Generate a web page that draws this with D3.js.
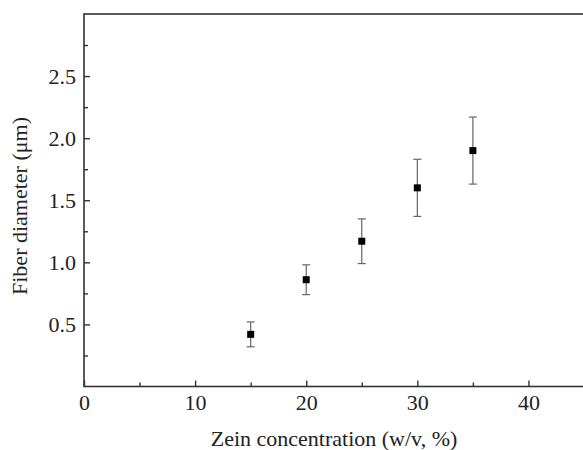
<!DOCTYPE html>
<html>
<head>
<meta charset="utf-8">
<script src="https://cdn.jsdelivr.net/npm/d3@7"></script>
<style>
  body { margin: 0; background: #fff; }
  svg { display: block; font-family: "Liberation Serif", "Times New Roman", serif; }
</style>
</head>
<body>
<svg id="chart" width="583" height="450"></svg>
<script>
// zein concentration (w/v, %) vs fiber diameter
var concentration = [15, 20, 25, 30, 35];
var diameter = [0.42, 0.86, 1.17, 1.60, 1.90];
var diameterErr = [0.10, 0.12, 0.18, 0.23, 0.27];
var xTicks = [0, 10, 20, 30, 40];
var yTicks = [0.5, 1.0, 1.5, 2.0, 2.5];

var svg = d3.select("#chart");
var m = { left: 84, top: 14, right: 584, bottom: 386.5 };
var axisColor = "#333";
var fontSize = 22;

var x = d3.scaleLinear().domain([0, 45]).range([m.left, m.right]);
var y = d3.scaleLinear().domain([0, 3]).range([m.bottom, m.top]);

// frame
svg.append("rect")
  .attr("x", m.left).attr("y", m.top)
  .attr("width", m.right - m.left).attr("height", m.bottom - m.top)
  .attr("fill", "none").attr("stroke", axisColor).attr("stroke-width", 1.6);

// x axis (ticks inward)
var xAxis = svg.append("g").attr("transform", "translate(0," + m.bottom + ")")
  .call(d3.axisBottom(x).tickValues(xTicks).tickSize(-6).tickPadding(8).tickFormat(d3.format("d")));
var xMinor = svg.append("g").attr("transform", "translate(0," + m.bottom + ")")
  .call(d3.axisBottom(x).tickValues(d3.range(5, 45, 10)).tickSize(-4).tickFormat(""));

// y axis (ticks inward)
var yAxis = svg.append("g").attr("transform", "translate(" + m.left + ",0)")
  .call(d3.axisLeft(y).tickValues(yTicks).tickSize(-6).tickPadding(8).tickFormat(d3.format(".1f")));
var yMinor = svg.append("g").attr("transform", "translate(" + m.left + ",0)")
  .call(d3.axisLeft(y).tickValues(d3.range(0.25, 3, 0.5)).tickSize(-4).tickFormat(""));

[xAxis, xMinor, yAxis, yMinor].forEach(function(g) {
  g.select(".domain").remove();
  g.selectAll(".tick line").attr("stroke", axisColor).attr("stroke-width", 1.4);
  g.selectAll("text").attr("fill", "#222").attr("font-size", fontSize)
    .attr("font-family", "Liberation Serif, serif");
});

// error bars
var err = svg.append("g").attr("stroke", "#666").attr("stroke-width", 1.2);
concentration.forEach(function(c, i) {
  var cx = x(c);
  var y0 = y(diameter[i] - diameterErr[i]);
  var y1 = y(diameter[i] + diameterErr[i]);
  err.append("line").attr("x1", cx).attr("x2", cx).attr("y1", y0).attr("y2", y1);
  err.append("line").attr("x1", cx - 4).attr("x2", cx + 4).attr("y1", y0).attr("y2", y0);
  err.append("line").attr("x1", cx - 4).attr("x2", cx + 4).attr("y1", y1).attr("y2", y1);
});

// markers
svg.append("g").selectAll("rect")
  .data(concentration)
  .join("rect")
  .attr("x", function(d) { return x(d) - 3.5; })
  .attr("y", function(d, i) { return y(diameter[i]) - 3.5; })
  .attr("width", 7).attr("height", 7)
  .attr("fill", "#000");

// axis titles
svg.append("text")
  .attr("x", 334).attr("y", 446)
  .attr("text-anchor", "middle").attr("font-size", fontSize).attr("fill", "#222")
  .text("Zein concentration (w/v, %)");

svg.append("text")
  .attr("transform", "translate(27,206) rotate(-90)")
  .attr("text-anchor", "middle").attr("font-size", fontSize).attr("fill", "#222")
  .text("Fiber diameter (\u03bcm)");
</script>
</body>
</html>
